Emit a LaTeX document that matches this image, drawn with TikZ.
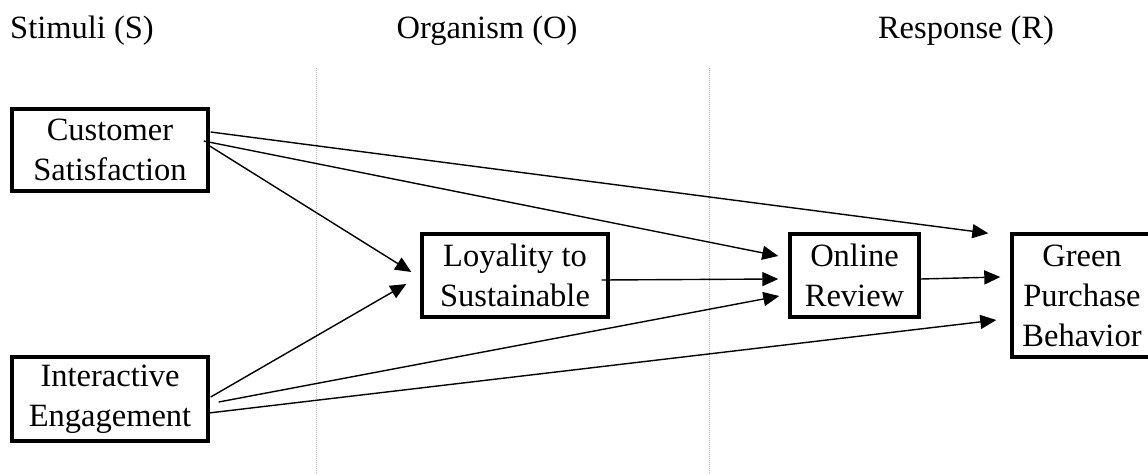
\documentclass[tikz,border=0pt]{standalone}
\usepackage{fontspec}
\setmainfont{Liberation Serif}
\usetikzlibrary{arrows.meta,calc}
\begin{document}
\begin{tikzpicture}[x=1pt,y=-1pt,
  txt/.style={font=\fontsize{32.5}{40}\selectfont, inner sep=0pt},
  box/.style={draw, line width=3.4pt, align=center, inner sep=0pt,
    font=\fontsize{32.5}{40}\selectfont},
  conn/.style={line width=1.4pt, -{Triangle[length=16pt,width=14pt]}},
  sep/.style={line width=1pt, gray!55, dash pattern=on 1pt off 1pt}]
\useasboundingbox (0,0) rectangle (1148,474);
\fill[white] (0,0) rectangle (1148,474);
% headers
\node[txt, anchor=base west] (hs) at (10,38) {Stimuli (S)};
\node[txt, anchor=base] (ho) at (487,38) {Organism (O)};
\node[txt, anchor=base] (hr) at (966,38) {Response (R)};
% separators
\coordinate (s1t) at (316,68); \coordinate (s1b) at (316,474);
\coordinate (s2t) at (709,68); \coordinate (s2b) at (709,474);
\draw[sep] (s1t) -- (s1b);
\draw[sep] (s2t) -- (s2b);
% boxes
\node[box, minimum width=196pt, minimum height=82pt] (cs) at (110,150) {Customer\\Satisfaction};
\node[box, minimum width=196pt, minimum height=84pt] (ie) at (110,399) {Interactive\\Engagement};
\node[box, minimum width=186pt, minimum height=83pt] (ls) at (515,275.5) {Loyality to\\Sustainable};
\node[box, minimum width=129pt, minimum height=83pt] (or) at (854.5,275.5) {Online\\Review};
\node[box, minimum width=140pt, minimum height=123pt] (gp) at (1082,295.5) {Green\\Purchase\\Behavior};
% connectors
\draw[conn] ($(cs.east)+(1,-18)$) -- ($(gp.north west)+(-22,1)$);
\draw[conn] ($(cs.east)+(-6,-9)$) -- ($(or.west)+(-10,-19.5)$);
\draw[conn] ($(cs.east)+(0,-4)$) -- ($(ls.west)+(-9,-3.5)$);
\draw[conn] ($(ie.east)+(1,-2)$) -- ($(ls.west)+(-14,8.5)$);
\draw[conn] ($(ie.east)+(9,3)$) -- ($(or.west)+(-9,20.5)$);
\draw[conn] ($(ie.east)+(-1,14)$) -- ($(gp.west)+(-14,24.5)$);
\draw[conn] ($(ls.east)+(-8,4.5)$) -- ($(or.west)+(-10,3.5)$);
\draw[conn] ($(or.east)+(0,3.5)$) -- ($(gp.west)+(-10,-18.5)$);
\end{tikzpicture}
\end{document}
